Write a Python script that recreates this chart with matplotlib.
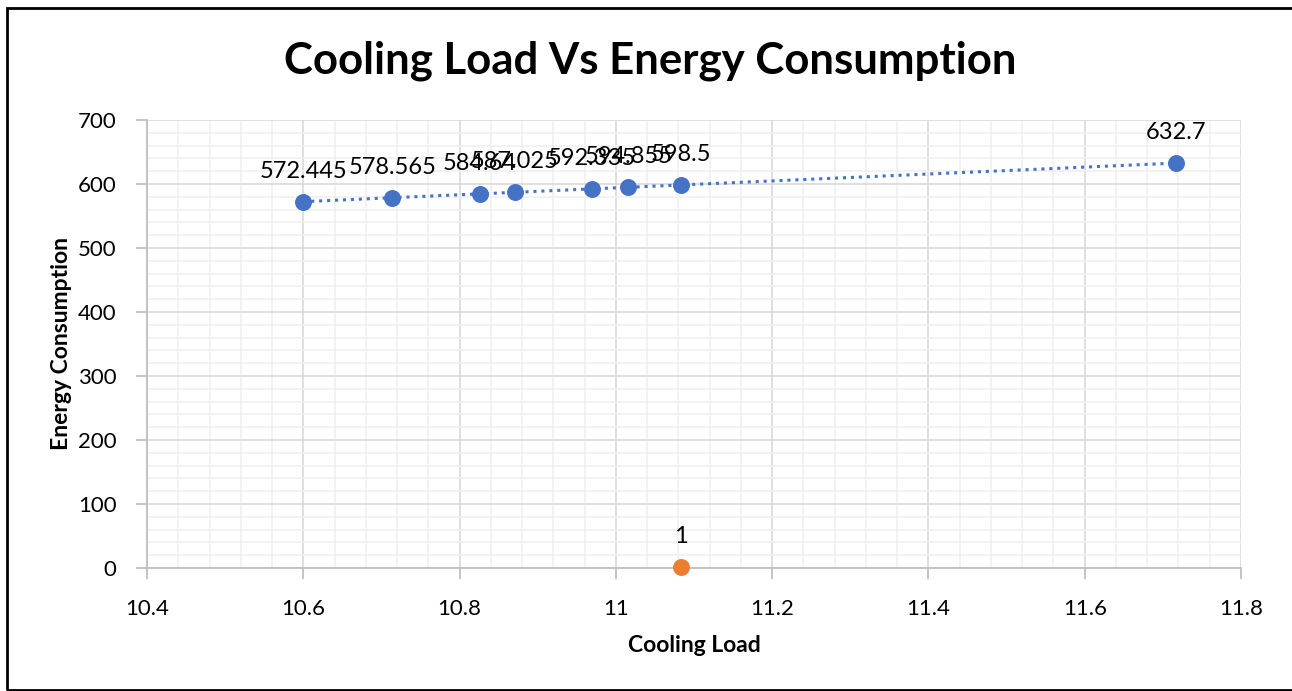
import numpy as np
import matplotlib.pyplot as plt
from matplotlib.patches import Rectangle
from matplotlib.ticker import MultipleLocator

plt.rcParams['font.family'] = ['Lato', 'DejaVu Sans']

# Data.
cooling_load = [10.600, 10.714, 10.826, 10.871, 10.969, 11.016, 11.083, 11.717]
energy = [572.445, 578.565, 584.64, 587.025, 592.335, 594.855, 598.5, 632.7]
energy_labels = ['572.445', '578.565', '584.64', '587.025', '592.335', '594.855', '598.5', '632.7']
extra_x = [11.083]
extra_y = [1]
extra_labels = ['1']
x_ticks = [10.4, 10.6, 10.8, 11.0, 11.2, 11.4, 11.6, 11.8]
x_tick_labels = ['10.4', '10.6', '10.8', '11', '11.2', '11.4', '11.6', '11.8']

blue = '#4472C4'
orange = '#ED7D31'

fig = plt.figure(figsize=(12.92, 6.91), dpi=100)
ax = fig.add_axes([147 / 1292, 1 - 568 / 691, (1241 - 147) / 1292, (568 - 120) / 691])

# Grid.
ax.set_xlim(10.4, 11.8)
ax.set_ylim(0, 700)
ax.set_xticks(x_ticks)
ax.set_xticklabels(x_tick_labels)
ax.xaxis.set_minor_locator(MultipleLocator(0.04))
ax.yaxis.set_major_locator(MultipleLocator(100))
ax.yaxis.set_minor_locator(MultipleLocator(20))
ax.grid(which='major', color='#D9D9D9', linewidth=1.2)
ax.grid(which='minor', color='#F0F0F0', linewidth=1.2)
ax.set_axisbelow(True)
for side in ['top', 'right']:
    ax.spines[side].set_visible(False)
for side in ['left', 'bottom']:
    ax.spines[side].set_color('#BFBFBF')
    ax.spines[side].set_linewidth(1.3)
ax.tick_params(which='major', length=8, width=1.3, color='#BFBFBF',
               labelsize=16, labelcolor='black')
ax.tick_params(axis='y', pad=14)
ax.tick_params(axis='x', pad=14)
ax.tick_params(which='minor', length=0)

# Linear trendline.
coef = np.polyfit(cooling_load, energy, 1)
tx = np.array([min(cooling_load), max(cooling_load)])
ax.plot(tx, np.polyval(coef, tx), color=blue, linewidth=2.2,
        linestyle=(0, (1, 1.6)), zorder=2)

ax.scatter(cooling_load, energy, s=125, color=blue, zorder=3, clip_on=False)
ax.scatter(extra_x, extra_y, s=125, color=orange, zorder=3, clip_on=False)

for x, y, t in zip(cooling_load, energy, energy_labels):
    ax.annotate(t, (x, y), xytext=(0, 22), textcoords='offset points',
                ha='center', va='center', fontsize=17)
for x, y, t in zip(extra_x, extra_y, extra_labels):
    ax.annotate(t, (x, y), xytext=(0, 22), textcoords='offset points',
                ha='center', va='center', fontsize=17)

ax.set_xlabel('Cooling Load', fontsize=16.5, fontweight='bold', labelpad=12)
ax.set_ylabel('Energy Consumption', fontsize=16.5, fontweight='bold', labelpad=4)
fig.text(650 / 1292, 1 - 61 / 691, 'Cooling Load Vs Energy Consumption',
         ha='center', va='center', fontsize=31.5, fontweight='bold')

# Outer chart border.
fig.patches.append(Rectangle((7 / 1292, 1.5 / 691), 1.2, (689.5 - 8) / 691,
                             transform=fig.transFigure, fill=False,
                             edgecolor='black', linewidth=2))

fig.savefig('out.png', dpi=100)
